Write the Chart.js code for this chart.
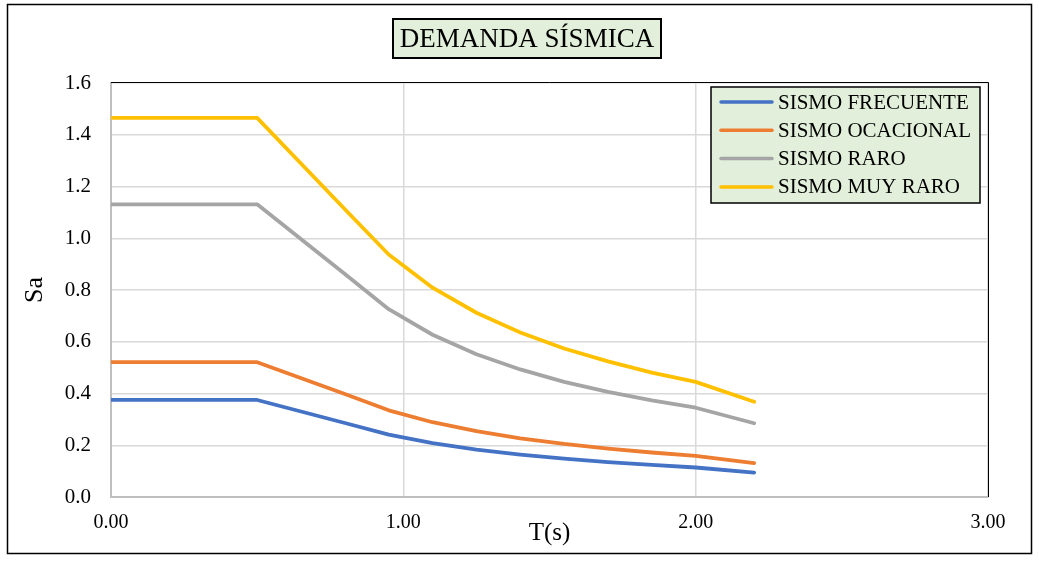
<!DOCTYPE html>
<html>
<head>
<meta charset="utf-8">
<title>Demanda Sísmica</title>
<script src="https://cdn.jsdelivr.net/npm/chart.js@4"></script>
<style>
  html, body { margin: 0; padding: 0; background: #fff; }
  #wrap { width: 1039px; height: 561px; }
</style>
</head>
<body>
<div id="wrap"><canvas id="spectrumChart" width="1039" height="561"></canvas></div>
<script>
// Periods T(s)
const periods = [0, 0.5, 0.8, 0.95, 1.1, 1.25, 1.4, 1.55, 1.7, 1.85, 2.0, 2.2];

// Sa values
const sismoFrecuente = [0.375, 0.375, 0.286, 0.241, 0.208, 0.183, 0.164, 0.148, 0.135, 0.124, 0.114, 0.094];
const sismoOcasional = [0.521, 0.521, 0.398, 0.335, 0.289, 0.255, 0.227, 0.205, 0.187, 0.172, 0.159, 0.131];
const sismoRaro = [1.131, 1.131, 0.862, 0.726, 0.627, 0.552, 0.493, 0.445, 0.406, 0.373, 0.345, 0.285];
const sismoMuyRaro = [1.465, 1.465, 1.112, 0.937, 0.809, 0.712, 0.636, 0.574, 0.524, 0.481, 0.445, 0.368];

const seriesNames = ['SISMO FRECUENTE', 'SISMO OCACIONAL', 'SISMO RARO', 'SISMO MUY RARO'];
const seriesColors = ['#4472C4', '#ED7D31', '#A5A5A5', '#FFC000'];
const seriesValues = [sismoFrecuente, sismoOcasional, sismoRaro, sismoMuyRaro];

const xTicks = [0, 1, 2, 3];
const yTicks = [0, 0.2, 0.4, 0.6, 0.8, 1.0, 1.2, 1.4, 1.6];

const chartTitle = 'DEMANDA SÍSMICA';
const serif = '"Liberation Serif", "DejaVu Serif", serif';
const boxFill = '#E2EFDA';

function toPoints(values) {
  return periods.map((t, i) => ({ x: t, y: values[i] }));
}

// Outer frame, plot border, title box and legend box
const decorPlugin = {
  id: 'decor',
  beforeDraw(chart) {
    const ctx = chart.ctx;
    ctx.save();
    ctx.fillStyle = '#fff';
    ctx.fillRect(0, 0, chart.width, chart.height);
    ctx.restore();
  },
  afterDraw(chart) {
    const ctx = chart.ctx;
    const a = chart.chartArea;
    ctx.save();

    // outer frame
    ctx.strokeStyle = '#000';
    ctx.lineWidth = 1.5;
    ctx.strokeRect(7.5, 4.5, 1024, 549);

    // plot area border (top / right)
    ctx.lineWidth = 1;
    ctx.beginPath();
    ctx.moveTo(a.left, a.top - 0.5);
    ctx.lineTo(a.right + 0.5, a.top - 0.5);
    ctx.lineTo(a.right + 0.5, a.bottom);
    ctx.stroke();

    // title box
    ctx.fillStyle = boxFill;
    ctx.fillRect(393, 19, 268, 39);
    ctx.lineWidth = 2;
    ctx.strokeStyle = '#000';
    ctx.strokeRect(393, 19, 268, 39);
    ctx.fillStyle = '#000';
    ctx.font = '27px ' + serif;
    ctx.textAlign = 'center';
    ctx.textBaseline = 'middle';
    ctx.fillText(chartTitle, 527, 40);

    // legend box
    const lx = 711, ly = 87, lw = 269, lh = 116;
    ctx.fillStyle = boxFill;
    ctx.fillRect(lx, ly, lw, lh);
    ctx.lineWidth = 1.5;
    ctx.strokeRect(lx, ly, lw, lh);
    ctx.font = '21px ' + serif;
    ctx.textAlign = 'left';
    chart.data.datasets.forEach((ds, i) => {
      const yy = ly + 15 + i * 28.3;
      ctx.strokeStyle = ds.borderColor;
      ctx.lineWidth = 3.5;
      ctx.lineCap = 'round';
      ctx.beginPath();
      ctx.moveTo(721, yy);
      ctx.lineTo(772, yy);
      ctx.stroke();
      ctx.fillStyle = '#000';
      ctx.fillText(ds.label, 778, yy + 1);
    });

    ctx.restore();
  }
};

const ctx = document.getElementById('spectrumChart').getContext('2d');
new Chart(ctx, {
  type: 'scatter',
  data: {
    datasets: seriesNames.map((name, i) => ({
      label: name,
      data: toPoints(seriesValues[i]),
      showLine: true,
      borderColor: seriesColors[i],
      backgroundColor: seriesColors[i],
      borderWidth: 3.8,
      pointRadius: 0,
      tension: 0,
      borderCapStyle: 'round',
      borderJoinStyle: 'round'
    }))
  },
  options: {
    responsive: false,
    animation: false,
    layout: { padding: { left: 8, right: 51, top: 83, bottom: 0 } },
    plugins: {
      legend: { display: false },
      tooltip: { enabled: false }
    },
    scales: {
      x: {
        type: 'linear',
        min: 0,
        max: 3,
        afterBuildTicks: (scale) => { scale.ticks = xTicks.map(v => ({ value: v })); },
        afterFit: (scale) => { scale.height = 64; },
        grid: { color: '#D9D9D9', lineWidth: 1.5, drawTicks: false },
        border: { color: '#BFBFBF', width: 2 },
        ticks: {
          color: '#000',
          padding: 14,
          font: { family: serif, size: 20 },
          callback: (v) => Number(v).toFixed(2)
        },
        title: {
          display: true,
          text: 'T(s)',
          color: '#000',
          font: { family: serif, size: 25 },
          padding: { top: 0, bottom: 13 }
        }
      },
      y: {
        min: 0,
        max: 1.6,
        afterBuildTicks: (scale) => { scale.ticks = yTicks.map(v => ({ value: v })); },
        afterFit: (scale) => { scale.width = 103; },
        grid: { color: '#D9D9D9', lineWidth: 1.5, drawTicks: false },
        border: { color: '#BFBFBF', width: 2 },
        ticks: {
          color: '#000',
          padding: 20,
          font: { family: serif, size: 21 },
          callback: (v) => Number(v).toFixed(1)
        },
        title: {
          display: true,
          text: 'Sa',
          color: '#000',
          font: { family: serif, size: 26 },
          padding: { top: 12, bottom: 0 }
        }
      }
    }
  },
  plugins: [decorPlugin]
});
</script>
</body>
</html>
